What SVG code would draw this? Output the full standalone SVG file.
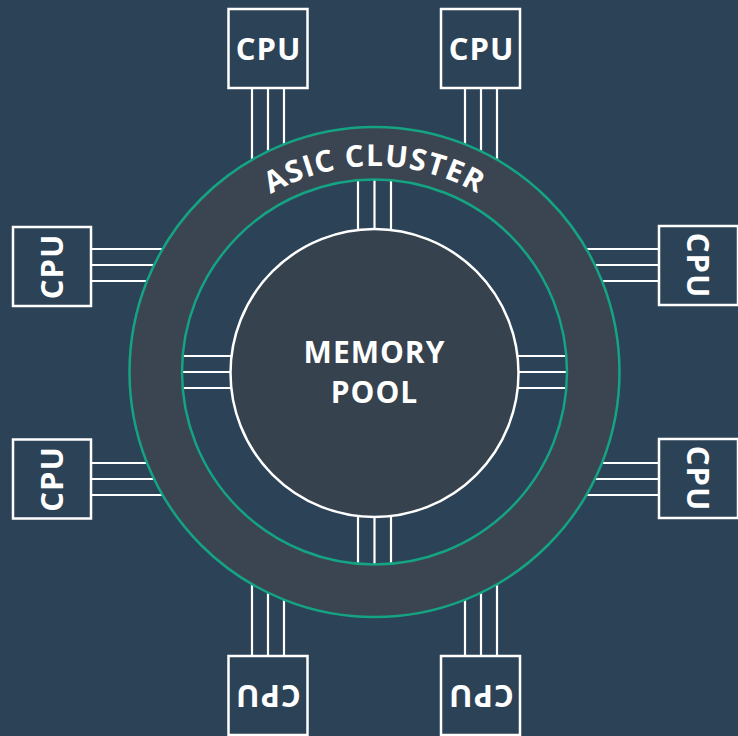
<svg xmlns="http://www.w3.org/2000/svg" width="738" height="736" viewBox="0 0 738 736">
<style>
.bg{fill:#2c4257}
.wire{stroke:#ffffff;stroke-width:2.2;fill:none}
.box{fill:#2c4257;stroke:#ffffff;stroke-width:2.5}
.lbl{font-family:"Open Sans","Liberation Sans",sans-serif;font-weight:700;fill:#ffffff;text-anchor:middle}
.cpu{font-size:31px;letter-spacing:1px}
.ring{fill:#3a4551;fill-rule:evenodd}
.green{fill:none;stroke:#14a383;stroke-width:2.5}
</style>
<defs>
<path id="arcPath" d="M 168.5 372 A 206 206 0 0 1 580.5 372"/>
</defs>
<rect class="bg" x="0" y="0" width="738" height="736"/>
<g id="connectors">
<path class="wire" d="M252 89V190M268 89V190M284 89V190"/>
<path class="wire" d="M465 89V190M481 89V190M497 89V190"/>
<path class="wire" d="M465 655V555M481 655V555M497 655V555"/>
<path class="wire" d="M252 655V555M268 655V555M284 655V555"/>
<path class="wire" d="M92 249H195M92 265H195M92 281H195"/>
<path class="wire" d="M92 463H195M92 479H195M92 495H195"/>
<path class="wire" d="M658 249H555M658 265H555M658 281H555"/>
<path class="wire" d="M658 463H555M658 479H555M658 495H555"/>
<path class="wire" d="M358 150V260M374.5 150V260M391 150V260"/>
<path class="wire" d="M358 484V594M374.5 484V594M391 484V594"/>
<path class="wire" d="M150 356H260M150 372H260M150 388H260"/>
<path class="wire" d="M489 356H599M489 372H599M489 388H599"/>
</g>
<g id="asic-cluster">
<path class="ring" d="M129.5 372a245 245 0 1 0 490 0a245 245 0 1 0 -490 0ZM182 372a192.5 192.5 0 1 0 385 0a192.5 192.5 0 1 0 -385 0Z"/>
<circle class="green" cx="374.5" cy="372" r="245"/>
<circle class="green" cx="374.5" cy="372" r="192.5"/>
<text class="lbl" font-size="30" letter-spacing="1.2"><textPath href="#arcPath" startOffset="50%">ASIC CLUSTER</textPath></text>
</g>
<g id="memory-pool">
<circle cx="374.5" cy="373" r="144" fill="#36424e" stroke="#ffffff" stroke-width="2.5"/>
<text class="lbl" font-size="30" letter-spacing="1" x="374.5" y="363">MEMORY</text>
<text class="lbl" font-size="30" letter-spacing="1" x="374.5" y="403">POOL</text>
</g>
<g id="cpu-top-left">
<rect class="box" x="228.5" y="9" width="79" height="79"/>
<text class="lbl cpu" x="268.5" y="59.5">CPU</text>
</g>
<g id="cpu-top-right">
<rect class="box" x="441" y="9" width="79" height="79"/>
<text class="lbl cpu" x="481.5" y="59.5">CPU</text>
</g>
<g id="cpu-left-upper">
<rect class="box" x="13" y="227" width="78" height="79"/>
<text class="lbl cpu" x="52" y="277.5" transform="rotate(-90 52 266.5)">CPU</text>
</g>
<g id="cpu-left-lower">
<rect class="box" x="13" y="439.5" width="78" height="79"/>
<text class="lbl cpu" x="52" y="490" transform="rotate(-90 52 479)">CPU</text>
</g>
<g id="cpu-right-upper">
<rect class="box" x="659" y="226" width="79" height="79"/>
<text class="lbl cpu" x="698" y="276.5" transform="rotate(90 698 265.5)">CPU</text>
</g>
<g id="cpu-right-lower">
<rect class="box" x="659" y="439" width="79" height="79"/>
<text class="lbl cpu" x="698" y="489.5" transform="rotate(90 698 478.5)">CPU</text>
</g>
<g id="cpu-bottom-left">
<rect class="box" x="228.5" y="656" width="79" height="79"/>
<text class="lbl cpu" x="268" y="706" transform="rotate(180 268 695.5)">CPU</text>
</g>
<g id="cpu-bottom-right">
<rect class="box" x="441" y="656" width="79" height="79"/>
<text class="lbl cpu" x="481" y="706" transform="rotate(180 481 695.5)">CPU</text>
</g>
</svg>
